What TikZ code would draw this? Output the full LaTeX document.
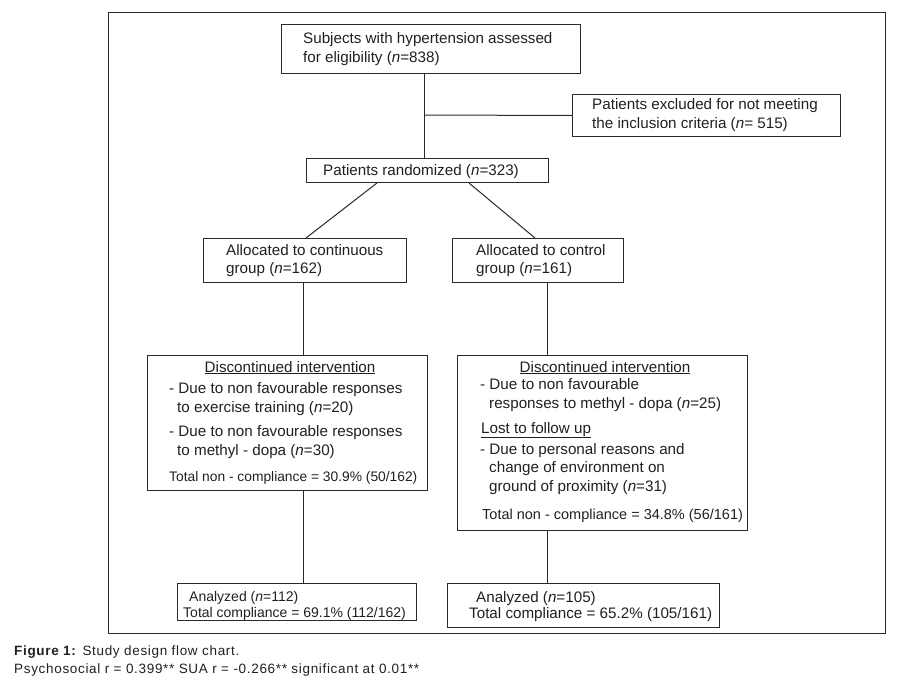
\documentclass[tikz,border=0pt]{standalone}
\usepackage{fontspec}
\setmainfont{Liberation Sans}
\newfontfamily\capfont[LetterSpace=5]{Liberation Sans}
\definecolor{ink}{HTML}{231F20}
\definecolor{linec}{HTML}{2A2A2A}
\tikzset{
  box/.style={draw=linec, line width=1pt, inner sep=0pt, anchor=north west},
  txt/.style={inner sep=0pt, anchor=base west, text=ink, font=\fontsize{15.2}{18}\selectfont},
  txtc/.style={txt, anchor=base},
  conn/.style={draw=linec, line width=1pt},
}
\begin{document}
\begin{tikzpicture}[x=1pt,y=-1pt]
\useasboundingbox (0,0) rectangle (905,691);
% outer frame
\node[box, line width=1.3pt, minimum width=777pt, minimum height=621pt] (frame) at (108,12) {};
% boxes
\node[box, minimum width=299pt, minimum height=49pt] (top) at (281,24) {};
\node[box, minimum width=268pt, minimum height=42pt] (excl) at (572,94) {};
\node[box, minimum width=242pt, minimum height=24pt] (rand) at (306,158) {};
\node[box, minimum width=203pt, minimum height=44pt] (cont) at (203,238) {};
\node[box, minimum width=171pt, minimum height=44pt] (ctrl) at (452,238) {};
\node[box, minimum width=280pt, minimum height=135pt] (discL) at (147,355) {};
\node[box, minimum width=290pt, minimum height=175pt] (discR) at (457,355) {};
\node[box, minimum width=239pt, minimum height=37pt] (anaL) at (177,583) {};
\node[box, minimum width=272pt, minimum height=44pt] (anaR) at (447,583) {};
% texts
\node[txt] (t1a) at (303,43) {Subjects with hypertension assessed};
\node[txt] (t1b) at (303,62) {for eligibility (\textit{n}=838)};
\node[txt] (t2a) at (592,109) {Patients excluded for not meeting};
\node[txt] (t2b) at (592,128) {the inclusion criteria (\textit{n}= 515)};
\node[txt] (t3) at (323,175) {Patients randomized (\textit{n}=323)};
\node[txt] (t4a) at (226,255) {Allocated to continuous};
\node[txt] (t4b) at (226,273) {group (\textit{n}=162)};
\node[txt] (t5a) at (476,255) {Allocated to control};
\node[txt] (t5b) at (476,273) {group (\textit{n}=161)};
% left discontinued
\node[txtc] (t6a) at (290,372) {\underline{Discontinued intervention}};
\node[txt] (t6b) at (169,393) {- Due to non favourable responses};
\node[txt] (t6c) at (177,412) {to exercise training (\textit{n}=20)};
\node[txt] (t6d) at (169,436) {- Due to non favourable responses};
\node[txt] (t6e) at (177,455) {to methyl - dopa (\textit{n}=30)};
\node[txt, font=\fontsize{13.8}{16}\selectfont] (t6f) at (169,481) {Total non - compliance = 30.9\% (50/162)};
% right discontinued
\node[txtc] (t7a) at (605,372) {\underline{Discontinued intervention}};
\node[txt] (t7b) at (480,389) {- Due to non favourable};
\node[txt] (t7c) at (489,408) {responses to methyl - dopa (\textit{n}=25)};
\node[txt] (t7d) at (481,433) {\underline{Lost to follow up}};
\node[txt] (t7e) at (480,454) {- Due to personal reasons and};
\node[txt] (t7f) at (489,472) {change of environment on};
\node[txt] (t7g) at (489,491) {ground of proximity (\textit{n}=31)};
\node[txt, font=\fontsize{14.5}{17}\selectfont] (t7h) at (482,519) {Total non - compliance = 34.8\% (56/161)};
% analyzed
\node[txt, font=\fontsize{14}{17}\selectfont] (t8a) at (189,601) {Analyzed (\textit{n}=112)};
\node[txt, font=\fontsize{14}{17}\selectfont] (t8b) at (183,617) {Total compliance = 69.1\% (112/162)};
\node[txt] (t9a) at (476,602) {Analyzed (\textit{n}=105)};
\node[txt] (t9b) at (469,618) {Total compliance = 65.2\% (105/161)};
% caption
\node[txt, font=\capfont\fontsize{13.5}{16}\selectfont] (cap1) at (14,655) {\textbf{Figure 1:} Study design flow chart.};
\node[txt, font=\capfont\fontsize{13.5}{16}\selectfont] (cap2) at (14,673) {Psychosocial r = 0.399** SUA r = -0.266** significant at 0.01**};
% connectors
\coordinate (j) at (424,115);
\draw[conn] (top.south -| j) -- (rand.north -| j);
\draw[conn] (j) -- (excl.west);
\draw[conn] ([xshift=71pt]rand.south west) -- ([xshift=103pt]cont.north west);
\draw[conn] ([xshift=163pt]rand.south west) -- ([xshift=83pt]ctrl.north west);
\draw[conn] ([xshift=100pt]cont.south west) -- ([xshift=100pt]cont.south west |- discL.north);
\draw[conn] ([xshift=95pt]ctrl.south west) -- ([xshift=95pt]ctrl.south west |- discR.north);
\draw[conn] ([xshift=156pt]discL.south west) -- ([xshift=156pt]discL.south west |- anaL.north);
\draw[conn] ([xshift=90pt]discR.south west) -- ([xshift=90pt]discR.south west |- anaR.north);
\end{tikzpicture}
\end{document}
